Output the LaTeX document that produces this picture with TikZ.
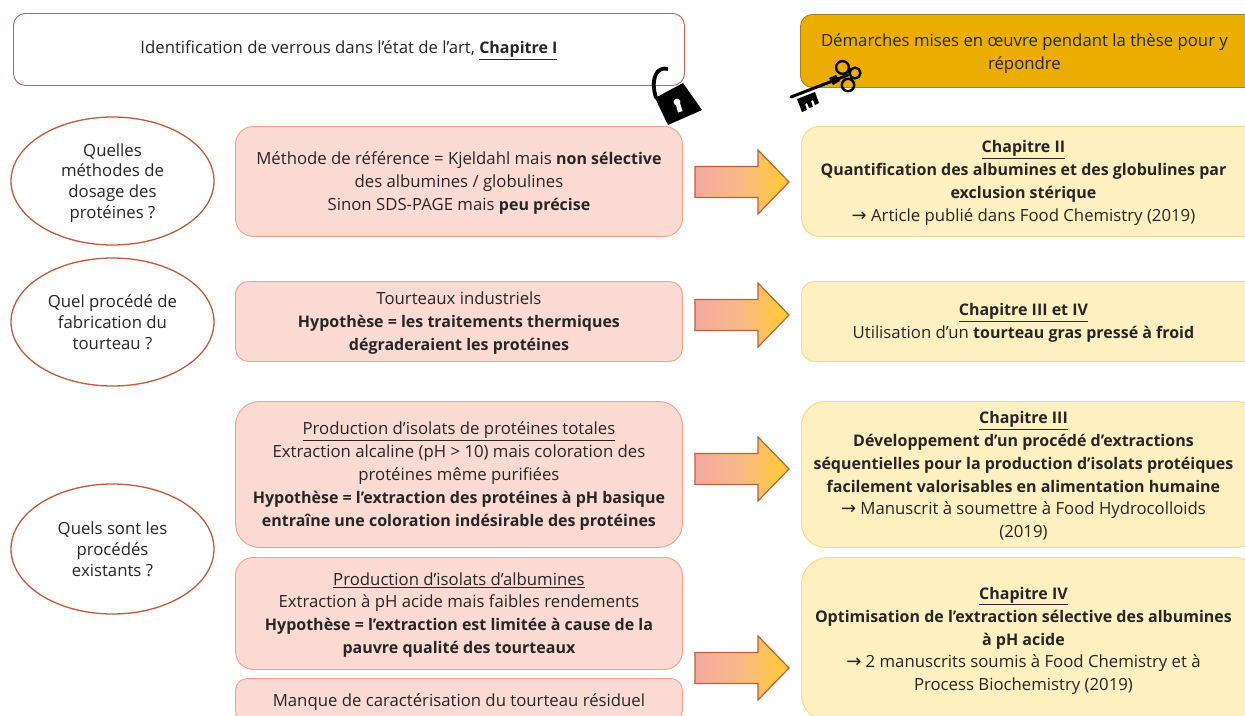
\documentclass[tikz,border=0pt]{standalone}
\usepackage{fontspec}
\setmainfont{Open Sans}
\newfontfamily\arrowfont{DejaVu Sans}
\newcommand{\arr}{{\arrowfont\fontsize{18}{22.8}\selectfont →}}
\newcommand{\bb}[1]{{\fontsize{16}{22.8}\selectfont\bfseries #1}}
\newcommand{\tx}[2][-1.5pt]{\raisebox{#1}[\height][\depth]{\parbox{435pt}{\centering #2}}}
\newcommand{\ox}[2][-2pt]{\raisebox{#1}[\height][\depth]{\parbox{130pt}{\centering #2}}}
\usetikzlibrary{shapes.geometric}
\definecolor{pinkfill}{HTML}{FADAD2}
\definecolor{pinkline}{HTML}{F4A08C}
\definecolor{yellowfill}{HTML}{FEF0C0}
\definecolor{yellowline}{HTML}{F5D98A}
\definecolor{orangefill}{HTML}{EBAD00}
\definecolor{orangeline}{HTML}{A88020}
\definecolor{topline}{HTML}{C0604F}
\definecolor{ovalline}{HTML}{C05A3C}
\definecolor{arrowline}{HTML}{C0603A}
\definecolor{txt}{HTML}{262626}
\definecolor{gradA}{HTML}{F4A9A0}
\definecolor{gradB}{HTML}{F8BA84}
\definecolor{gradC}{HTML}{FFC83C}
\pgfdeclarehorizontalshading{arrowgrad}{100bp}{
  color(0bp)=(gradA);
  color(25bp)=(gradA);
  color(50bp)=(gradB);
  color(70bp)=(gradC);
  color(100bp)=(gradC)
}
\newcommand{\bigarrow}[1]{\draw[bigarrowstyle] (695,#1) ++(0,-15.5) -- ++(63,0) -- ++(0,-16.5) -- ++(31,32) -- ++(-31,32) -- ++(0,-16.5) -- ++(-63,0) -- cycle;}
\tikzset{
  x=1pt,y=-1pt,
  box/.style={line width=0.9pt,align=center,font=\fontsize{16.75}{22.8}\selectfont,text=txt,inner sep=0pt,anchor=north west},
  pinkbox/.style={box,fill=pinkfill,draw=pinkline,minimum width=447pt},
  yellowbox/.style={box,fill=yellowfill,draw=yellowline,minimum width=460pt},
  oval/.style={ellipse,draw=ovalline,line width=1.3pt,fill=white,align=center,minimum width=203pt,minimum height=128pt,inner sep=0pt,font=\fontsize{16.75}{20.8}\selectfont,text=txt},
  bigarrowstyle/.style={draw=arrowline,line width=1.2pt,shading=arrowgrad,shading angle=0,line join=miter},
}
\begin{document}
\begin{tikzpicture}
\useasboundingbox (0,0) rectangle (1245,715);
\clip (0,0) rectangle (1245,715);
% header boxes
\node[box,rounded corners=12pt,draw=topline,fill=white,minimum width=671pt,minimum height=72pt] (top) at (13,13) {\tx[-1pt]{Identification de verrous dans l’état de l’art, \bb{\underline{Chapitre I}}}};
\node[box,rounded corners=12pt,draw=orangeline,fill=orangefill,minimum width=470pt,minimum height=73pt] (demarche) at (800,14) {\hspace*{-22pt}\tx[-2.5pt]{Démarches mises en œuvre pendant la thèse pour y\\répondre}};
% ovals
\node[oval] (q1) at (112.5,181) {\ox{Quelles\\méthodes de\\dosage des\\protéines ?}};
\node[oval] (q2) at (112.5,322) {\ox[0pt]{Quel procédé de\\fabrication du\\tourteau ?}};
\node[oval,minimum height=130pt] (q3) at (112.5,549) {\ox[0pt]{Quels sont les\\procédés\\existants ?}};
% pink boxes
\node[pinkbox,rounded corners=18pt,minimum height=110pt] (p1) at (235,126) {\tx{Méthode de référence = Kjeldahl mais \bb{non sélective}\\des albumines / globulines\\Sinon SDS-PAGE mais \bb{peu précise}}};
\node[pinkbox,rounded corners=13pt,minimum height=80pt] (p2) at (235,281) {\tx{Tourteaux industriels\\\bb{Hypothèse = les traitements thermiques}\\\bb{dégraderaient les protéines}}};
\node[pinkbox,rounded corners=24pt,minimum height=146pt] (p3) at (235,401) {\tx{\underline{Production d’isolats de protéines totales}\\Extraction alcaline (pH > 10) mais coloration des\\protéines même purifiées\\\bb{Hypothèse = l’extraction des protéines à pH basique}\\\bb{entraîne une coloration indésirable des protéines}}};
\node[pinkbox,rounded corners=18pt,minimum height=112pt] (p4) at (235,557) {\tx{\underline{Production d’isolats d’albumines}\\Extraction à pH acide mais faibles rendements\\\bb{Hypothèse = l’extraction est limitée à cause de la}\\\bb{pauvre qualité des tourteaux}}};
\node[pinkbox,rounded corners=12pt,minimum height=44pt] (p5) at (235,678) {\tx{Manque de caractérisation du tourteau résiduel}};
% yellow boxes
\node[yellowbox,rounded corners=18pt,minimum height=110pt] (y1) at (801,126) {\hspace*{-16pt}\tx{\bb{\underline{Chapitre II}}\\\bb{Quantification des albumines et des globulines par}\\\bb{exclusion stérique}\\\arr{} Article publié dans Food Chemistry (2019)}};
\node[yellowbox,rounded corners=13pt,minimum height=80pt] (y2) at (801,281) {\hspace*{-16pt}\tx{\bb{\underline{Chapitre III et IV}}\\Utilisation d’un \bb{tourteau gras pressé à froid}}};
\node[yellowbox,rounded corners=24pt,minimum height=146pt] (y3) at (801,401) {\hspace*{-16pt}\tx{\bb{\underline{Chapitre III}}\\\bb{Développement d’un procédé d’extractions}\\\bb{séquentielles pour la production d’isolats protéiques}\\\bb{facilement valorisables en alimentation humaine}\\\arr{} Manuscrit à soumettre à Food Hydrocolloids\\(2019)}};
\node[yellowbox,rounded corners=27pt,minimum height=164pt] (y4) at (801,557) {\hspace*{-16pt}\tx{\bb{\underline{Chapitre IV}}\\\bb{Optimisation de l’extraction sélective des albumines}\\\bb{à pH acide}\\\arr{} 2 manuscrits soumis à Food Chemistry et à\\Process Biochemistry (2019)}};
% arrows
\bigarrow{182}
\bigarrow{315}
\bigarrow{469}
\bigarrow{668}
% padlock
\draw[line width=3.8pt] (668,69) .. controls (657,66) and (650,78) .. (656,98);
\fill[black] (655,98) -- (683,83) -- (702,110) -- (668,125) -- cycle;
\fill[white] (677,102) circle (3.4pt);
\fill[white] (675.5,103) -- (679.5,101.5) -- (682.5,111) -- (678,112.5) -- cycle;
% key
\draw[line width=2.4pt] (842.5,67.5) circle (6.4pt) (855,73) circle (5.4pt) (848,85) circle (6.2pt);
\draw[line width=3pt,line cap=round] (791,97) -- (848,75);
\fill[black] (829,78) -- (833,85) -- (840,81) -- (836,75) -- cycle;
\fill[black] (797,99) -- (815,92) -- (819,103) -- (815,105) -- (813,100) -- (811,101) -- (813,107) -- (809,108) -- (807,103) -- (805,104) -- (807,110) -- (802,112) -- cycle;
\end{tikzpicture}
\end{document}
